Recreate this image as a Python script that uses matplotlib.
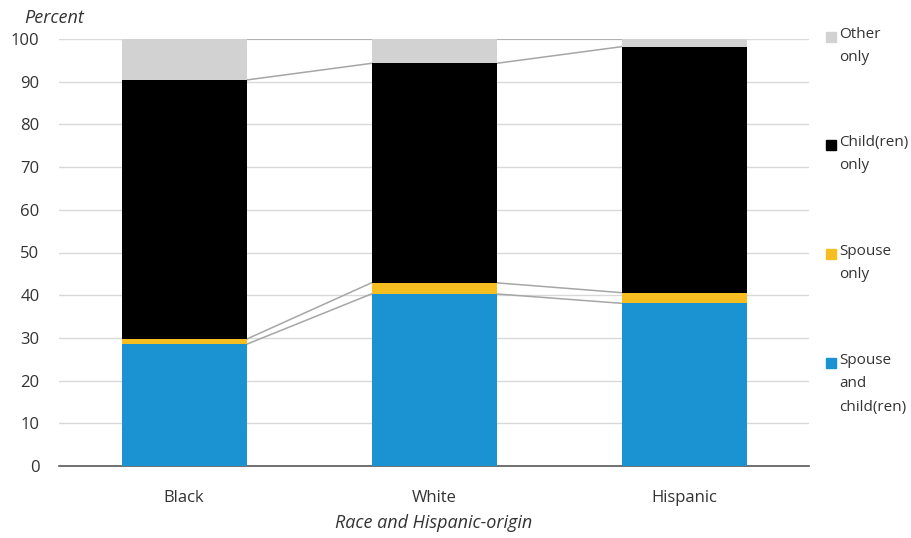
import numpy as np
import matplotlib.pyplot as plt
from matplotlib.patches import Rectangle

# ------------------------------------------------------------
# Data (percent)
groups = ["Black", "White", "Hispanic"]
spouse_and_child = [28.5, 40.3, 38.1]
spouse_only = [1.2, 2.6, 2.5]
child_only = [60.7, 51.4, 57.6]
other_only = [9.6, 5.7, 1.8]

series_names = ["Spouse\nand\nchild(ren)", "Spouse\nonly", "Child(ren)\nonly", "Other\nonly"]
series_values = [spouse_and_child, spouse_only, child_only, other_only]
series_colors = ["#1b93d2", "#f6be20", "#000000", "#d2d2d2"]

plt.rcParams['font.family'] = ['Open Sans', 'DejaVu Sans']

# ------------------------------------------------------------
fig = plt.figure(figsize=(9.11, 5.38), dpi=100)
ax = fig.add_axes([59 / 911, 1 - 466 / 538, 750 / 911, 427 / 538])

x = np.arange(len(groups))
width = 0.5
bottom = np.zeros(len(groups))
tops = []
for vals, col in zip(series_values, series_colors):
    vals = np.array(vals)
    ax.bar(x, vals, width, bottom=bottom, color=col, zorder=3)
    bottom = bottom + vals
    tops.append(bottom.copy())

# series lines between bars
for t in tops:
    for i in range(len(groups) - 1):
        ax.plot([x[i] + width / 2, x[i + 1] - width / 2], [t[i], t[i + 1]],
                color="#a6a6a6", lw=1.1, zorder=2)

ax.set_xlim(-0.5, len(groups) - 0.5)
ax.set_ylim(0, 100)
ax.set_yticks(np.arange(0, 101, 10))
ax.yaxis.grid(True, color="#d9d9d9", lw=1, zorder=0)
ax.set_axisbelow(True)
for s in ["top", "right", "left"]:
    ax.spines[s].set_visible(False)
ax.spines["bottom"].set_color("#595959")
ax.spines["bottom"].set_linewidth(1.2)
ax.tick_params(axis="both", length=0, labelsize=12, colors="#333333")
ax.tick_params(axis="y", pad=14)
ax.tick_params(axis="x", pad=17)
ax.set_xticks(x)
ax.set_xticklabels(groups)

fig.text(24 / 911, 1 - 18 / 538, "Percent", style="italic", fontsize=13,
         color="#333333", va="center", ha="left")
fig.text(434 / 911, 1 - 523 / 538, "Race and Hispanic-origin", style="italic",
         fontsize=13, color="#333333", va="center", ha="center")

# legend
leg_y = [363, 254, 145, 37]
for name, col, yy in zip(series_names, series_colors, leg_y):
    fig.patches.append(Rectangle((826 / 911, 1 - (yy + 5) / 538), 10 / 911, 10 / 538,
                                 color=col, transform=fig.transFigure, figure=fig))
    fig.text(839 / 911, 1 - (yy - 10) / 538, name, fontsize=11, color="#333333",
             va="top", ha="left", linespacing=1.75)

plt.savefig("out.png", dpi=100)
